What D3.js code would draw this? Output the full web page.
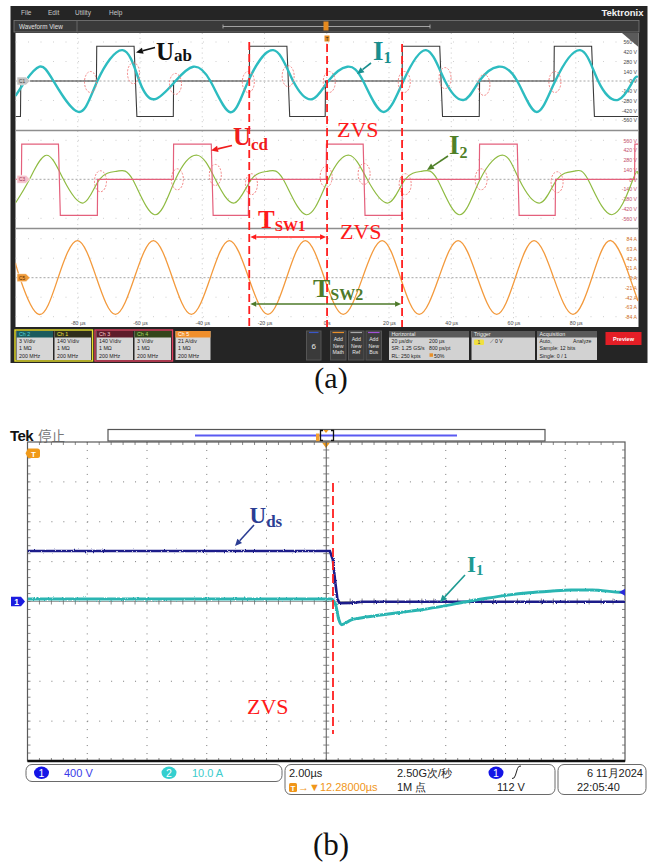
<!DOCTYPE html>
<html>
<head>
<meta charset="utf-8">
<script src="https://cdn.jsdelivr.net/npm/d3@7/dist/d3.min.js"></script>
<style>
  html, body { margin: 0; padding: 0; background: #fff; }
  svg { display: block; }
</style>
</head>
<body>
<svg id="fig" width="663" height="865"></svg>
<script>
// ================= (a) four-channel capture, 20 µs/div =================
const timeTicksA  = [-80, -60, -40, -20, 0, 20, 40, 60, 80];
const timeLabelsA = ["-80 µs", "-60 µs", "-40 µs", "-20 µs", "0 s", "20 µs", "40 µs", "60 µs", "80 µs"];
const voltTicks   = [560, 420, 280, 140, 0, -140, -280, -420, -560];
const voltLabels  = ["560 V", "420 V", "280 V", "140 V", "0 V", "-140 V", "-280 V", "-420 V", "-560 V"];
const ampTicks    = [84, 63, 42, 21, 0, -21, -42, -63, -84];
const ampLabels   = ["84 A", "63 A", "42 A", "21 A", "0 A", "-21 A", "-42 A", "-63 A", "-84 A"];

// Uab, Ch1 140 V/div : [time µs, volts]
const uab = [[-100,-510],[-98.4,-510],[-98.3,0],[-74.0,0],[-73.9,500],[-61.9,500],[-61.0,-510],[-49.3,-510],
  [-49.2,0],[-24.9,0],[-24.8,500],[-12.8,500],[-11.9,-510],[-0.5,-510],[-0.4,0],[24.2,0],[24.3,500],
  [36.3,500],[37.2,-510],[49.0,-510],[49.1,0],[73.0,0],[73.1,500],[85.1,500],[86.0,-510],[100,-510]];
// I1 probe, Ch2 3 V/div
const i1a = [[-100,-4.6],[-96.8,0],[-92.3,4.4],[-87.8,0],[-79.8,-9.5],[-73.7,0],[-65.6,9.5],[-60.2,0],
  [-55.3,-5.6],[-48.6,0],[-42.9,4.4],[-37.4,0],[-31.0,-9.6],[-25.2,0],[-17.2,9.5],[-10.8,0],[-4.7,-5.6],
  [0.5,0],[6.6,4.4],[11.7,0],[18.1,-9.5],[24.6,0],[31.9,9.5],[38.0,0],[44.1,-5.8],[49.0,0],[55.1,4.4],
  [61.2,0],[67.3,-9.5],[73.4,0],[81.4,9.5],[87.2,0],[93.6,-5.8],[98.4,0],[100,1.2]];
// Ucd, Ch3 140 V/div
const ucd = [[-100,0],[-98.1,0],[-98.0,504],[-86.2,504],[-85.6,-518],[-73.7,-518],[-73.6,0],[-49.3,0],
  [-49.2,504],[-37.1,504],[-36.5,-518],[-25.2,-518],[-25.1,0],[-0.2,0],[-0.1,504],[11.7,504],[12.3,-518],
  [24.2,-518],[24.3,0],[49.0,0],[49.1,504],[61.2,504],[61.8,-518],[73.4,-518],[73.5,0],[98.9,0],[99.0,504],[100,504]];
// I2 probe, Ch4 3 V/div
const i2 = [[-100,-7.3],[-95.5,0],[-90.1,7.4],[-84.6,0],[-78.2,-7.3],[-73.0,0],[-67.3,2.5],[-62.4,0],
  [-55.3,-10.9],[-48.6,0],[-41.6,7.4],[-35.8,0],[-29.7,-7.3],[-24.2,0],[-18.8,2.5],[-14.0,0],[-6.6,-10.9],
  [0.5,0],[7.2,7.4],[13.0,0],[19.7,-7.3],[25.2,0],[30.7,2.5],[35.5,0],[42.5,-10.9],[49.3,0],[56.7,7.4],
  [61.8,0],[68.5,-7.3],[74.0,0],[79.5,2.5],[83.9,0],[91.6,-10.9],[98.4,0],[100,1.6]];
// Ch5 current, 21 A/div
const ch5 = [[-100,32],[-98.6,0],[-92.5,-79],[-86.3,0],[-80.1,80],[-74.0,0],[-67.9,-79],[-61.8,0],
  [-55.7,80],[-49.6,0],[-43.5,-79],[-37.4,0],[-31.3,80],[-25.1,0],[-18.9,-79],[-12.9,0],[-6.9,80],
  [-0.8,0],[5.3,-79],[11.5,0],[17.8,80],[23.7,0],[29.7,-79],[36.0,0],[42.2,80],[48.4,0],[54.6,-79],
  [60.6,0],[66.6,80],[72.9,0],[79.1,-79],[85.2,0],[91.3,80],[97.4,0],[100,-50]];
// switching instants (µs)
const switchTimes = [-24.9, 0.1, 24.2];
// zero-voltage transitions circled on the traces: [time µs, divisions from centre]
const zvsMarks1 = [[-75.9,-0.1],[-62.1,0.8],[-48.6,-0.3],[-25.2,-0.1],[-12.4,0.5],[0.8,-0.1],[24.9,-0.1],[38.0,0.3],[50.5,-0.4],[73.3,-0.1]];
const zvsMarks2 = [[-72.7,-0.2],[-48.0,0],[-35.8,0.45],[-24.2,-0.5],[-0.2,0.25],[12.0,0.55],[25.2,-0.5],[49.6,0],[74.0,-0.3]];

// ================= (b) turn-on detail, 2 µs/div =================
// Uds, Ch1 400 V/div : [time µs, volts]
const uds = [[-10,506],[0.12,506],[0.22,420],[0.3,200],[0.37,30],[0.45,-18],[0.85,-14],[1.2,-2],[10,-2]];
// I1, Ch2 10 A/div : [time µs, amps]
const i1b = [[-10,0.6],[0.15,0.6],[0.3,-0.5],[0.42,-4.5],[0.52,-5.8],[0.84,-4.6],[1.1,-4.2],[1.82,-3.4],
  [2.53,-2.7],[3.24,-2.0],[3.95,-1.1],[4.65,-0.1],[5.36,0.8],[6.07,1.6],[6.78,2.2],[7.49,2.6],[8.19,2.9],
  [8.9,2.9],[9.9,2.3],[10,2.3]];

// ---------------------------------------------------------------
const svg = d3.select("#fig");
const UI = "'Liberation Sans', Arial, sans-serif";
const SERIF = "'Liberation Serif', 'Times New Roman', serif";

// slight acquisition fuzz for the sampled traces
const defs = svg.append("defs");
const fz = defs.append("filter").attr("id", "fuzz").attr("filterUnits", "userSpaceOnUse")
  .attr("x", 0).attr("y", 0).attr("width", 663).attr("height", 865);
fz.append("feTurbulence").attr("type", "fractalNoise").attr("baseFrequency", "0.9 0.7").attr("numOctaves", 1).attr("seed", 4).attr("result", "n");
fz.append("feDisplacementMap").attr("in", "SourceGraphic").attr("in2", "n").attr("scale", 2.6)
  .attr("xChannelSelector", "R").attr("yChannelSelector", "G");

function arrow(g, x1, y1, x2, y2, color, w, head) {
  const a = Math.atan2(y2 - y1, x2 - x1);
  const bx = x2 - head * Math.cos(a), by = y2 - head * Math.sin(a);
  g.append("line").attr("x1", x1).attr("y1", y1).attr("x2", bx).attr("y2", by)
    .attr("stroke", color).attr("stroke-width", w);
  const hw = head * 0.45;
  g.append("path").attr("d", `M${x2},${y2}L${bx - hw * Math.sin(a)},${by + hw * Math.cos(a)}L${bx + hw * Math.sin(a)},${by - hw * Math.cos(a)}Z`)
    .attr("fill", color);
}
function subLabel(g, x, y, main, sub, color, size, subSize, subDy) {
  const t = g.append("text").attr("x", x).attr("y", y).attr("fill", color)
    .attr("font-family", SERIF).attr("font-weight", "bold").attr("font-size", size);
  t.append("tspan").text(main);
  t.append("tspan").attr("font-size", subSize).attr("dy", subDy).text(sub);
}

// ===================== (a) =====================
const A = svg.append("g");
const PX0 = 15.5, PX1 = 638.5, PY0 = 33, PY1 = 327;
A.append("rect").attr("x", 10.5).attr("y", 6).attr("width", 637).attr("height", 357).attr("fill", "#252525");
// menu bar
["File", "Edit", "Utility", "Help"].forEach((m, i) => {
  A.append("text").attr("x", [21, 48, 75, 109][i]).attr("y", 14.5).text(m)
    .attr("font-family", UI).attr("font-size", 6.5).attr("fill", "#c8c8c8");
});
A.append("text").attr("x", 643.5).attr("y", 16).attr("text-anchor", "end").text("Tektronix")
  .attr("font-family", UI).attr("font-weight", "bold").attr("font-size", 9.5).attr("fill", "#f2f2f2");
A.append("rect").attr("x", 14).attr("y", 20.5).attr("width", 625).attr("height", 11.5)
  .attr("fill", "#3a3a3a").attr("stroke", "#7a7a7a").attr("stroke-width", 0.8);
A.append("text").attr("x", 19).attr("y", 28.5).text("Waveform View")
  .attr("font-family", UI).attr("font-size", 6.3).attr("fill", "#e0e0e0");
A.append("line").attr("x1", 77).attr("x2", 77).attr("y1", 21).attr("y2", 32).attr("stroke", "#666");
A.append("path").attr("d", "M223,24.5V28.5M223,26.5H430M430,24.5V28.5").attr("stroke", "#bdbdbd").attr("fill", "none").attr("stroke-width", 0.8);
A.append("rect").attr("x", 323.5).attr("y", 21.5).attr("width", 5).attr("height", 9).attr("fill", "#e58a1f");

// plot area
A.append("rect").attr("x", PX0).attr("y", PY0).attr("width", PX1 - PX0).attr("height", PY1 - PY0).attr("fill", "#fff");
const xA = d3.scaleLinear().domain([-100, 100]).range([PX0, 638]);
const DIV = 9.75;
const panel = (c, perDiv) => d3.scaleLinear().domain([-5 * perDiv, 5 * perDiv]).range([c + 5 * DIV, c - 5 * DIV]);
const C1 = 81, C2 = 179.3, C3 = 277.7;
const yUab = panel(C1, 140), yI1a = panel(C1, 3);
const yUcd = panel(C2, 140), yI2 = panel(C2, 3);
const yCh5 = panel(C3, 21);

// grid
const grid = A.append("g");
timeTicksA.forEach(t => {
  grid.append("line").attr("x1", xA(t)).attr("x2", xA(t)).attr("y1", PY0).attr("y2", PY1)
    .attr("stroke", "#c2c2c2").attr("stroke-width", 0.9).attr("stroke-dasharray", "1,3.9");
});
[C1, C2, C3].forEach(c => {
  [-4, -2, 2, 4].forEach(k => {
    grid.append("line").attr("x1", PX0).attr("x2", PX1).attr("y1", c + k * DIV).attr("y2", c + k * DIV)
      .attr("stroke", "#cacaca").attr("stroke-width", 0.9).attr("stroke-dasharray", "1,11.5");
  });
  grid.append("line").attr("x1", PX0).attr("x2", PX1).attr("y1", c).attr("y2", c)
    .attr("stroke", "#9c9c9c").attr("stroke-width", 0.9).attr("stroke-dasharray", "2,2");
});
[130.5, 228.5].forEach(y => A.append("line").attr("x1", PX0).attr("x2", PX1).attr("y1", y).attr("y2", y)
  .attr("stroke", "#8e8e8e").attr("stroke-width", 1.4));

// scale labels
function rightAxis(scale, ticks, labels, color) {
  const g = A.append("g").attr("transform", `translate(637,0)`)
    .call(d3.axisLeft(scale).tickValues(ticks).tickFormat((d, i) => labels[i]).tickSize(0).tickPadding(0));
  g.select(".domain").remove();
  g.selectAll("text").attr("font-family", UI).attr("font-size", 5.2).attr("fill", color).attr("dy", "0.35em");
}
rightAxis(yUab, voltTicks, voltLabels, "#4a4a4a");
rightAxis(yUcd, voltTicks, voltLabels, "#c4506c");
rightAxis(yCh5, ampTicks, ampLabels, "#cf6d22");
const tAxis = A.append("g").attr("transform", "translate(0,321)")
  .call(d3.axisBottom(xA).tickValues(timeTicksA).tickFormat((d, i) => timeLabelsA[i]).tickSize(0).tickPadding(0));
tAxis.select(".domain").remove();
tAxis.selectAll("text").attr("font-family", UI).attr("font-size", 5.2).attr("fill", "#4a4a4a");

// traces
A.append("clipPath").attr("id", "clipA").append("rect").attr("x", PX0).attr("y", PY0).attr("width", PX1 - PX0).attr("height", PY1 - PY0);
const tr = A.append("g").attr("clip-path", "url(#clipA)");
const lineOf = (ys, curve) => d3.line().x(d => xA(d[0])).y(d => ys(d[1])).curve(curve);
tr.append("path").datum(ch5).attr("d", lineOf(yCh5, d3.curveNatural)).attr("fill", "none").attr("stroke", "#f39a3d").attr("stroke-width", 1.3);
tr.append("path").datum(i2).attr("d", lineOf(yI2, d3.curveNatural)).attr("fill", "none").attr("stroke", "#8fbb42").attr("stroke-width", 1.2);
tr.append("path").datum(ucd).attr("d", lineOf(yUcd, d3.curveLinear)).attr("fill", "none").attr("stroke", "#e4607c").attr("stroke-width", 1.2);
tr.append("path").datum(uab).attr("d", lineOf(yUab, d3.curveLinear)).attr("fill", "none").attr("stroke", "#3a3a3a").attr("stroke-width", 1.1);
tr.append("path").datum(i1a).attr("d", lineOf(yI1a, d3.curveNatural)).attr("fill", "none").attr("stroke", "#2dbcc0").attr("stroke-width", 2.4);

// circled transitions
zvsMarks1.forEach(d => tr.append("ellipse").attr("cx", xA(d[0])).attr("cy", C1 - d[1] * DIV).attr("rx", 6).attr("ry", 10.5)
  .attr("fill", "none").attr("stroke", "#f07878").attr("stroke-width", 0.9).attr("stroke-dasharray", "2,1.5"));
zvsMarks2.forEach(d => tr.append("ellipse").attr("cx", xA(d[0])).attr("cy", C2 - d[1] * DIV).attr("rx", 6).attr("ry", 10.5)
  .attr("fill", "none").attr("stroke", "#f07878").attr("stroke-width", 0.9).attr("stroke-dasharray", "2,1.5"));

// channel markers at the left edge
[[C1, "C1", "#c4c4c4", "#444"], [C2, "C3", "#f6c0cb", "#a03050"], [C3, "C5", "#ee9a3a", "#5a2a00"]].forEach(m => {
  const y = m[0];
  A.append("path").attr("d", `M17,${y - 4}H26L30,${y}L26,${y + 4}H17Z`).attr("fill", m[2]).attr("stroke", "#fff").attr("stroke-width", 0.6);
  A.append("text").attr("x", 22).attr("y", y + 1.8).attr("text-anchor", "middle").text(m[1])
    .attr("font-family", UI).attr("font-size", 4.8).attr("fill", m[3]);
});
// trigger marker and corner icon
A.append("rect").attr("x", 324.5).attr("y", 35.5).attr("width", 5).attr("height", 6).attr("fill", "#e58a1f");
A.append("text").attr("x", 327).attr("y", 40.5).attr("text-anchor", "middle").text("T").attr("font-family", UI).attr("font-size", 4.5).attr("fill", "#222");
A.append("path").attr("d", "M622,33H638.5V47Z").attr("fill", "#5a5a5a");

// switching instants
switchTimes.forEach((t, i) => A.append("line").attr("x1", xA(t)).attr("x2", xA(t)).attr("y1", i === 0 ? 42 : 44).attr("y2", PY1)
  .attr("stroke", "#ff1f1f").attr("stroke-width", 1.8).attr("stroke-dasharray", "8,4"));

// annotations
const ann = A.append("g");
subLabel(ann, 156, 60, "U", "ab", "#111", 25, 17, 1);
arrow(ann, 155, 47.5, 136, 52.5, "#111", 1.6, 7);
subLabel(ann, 373, 60, "I", "1", "#1a8e8e", 27, 16, 3);
arrow(ann, 371, 63, 357, 74, "#1a8e8e", 1.6, 7);
subLabel(ann, 233, 145, "U", "cd", "#f01c1c", 25, 17, 5);
arrow(ann, 232, 145.5, 211, 150.5, "#f01c1c", 1.6, 7);
subLabel(ann, 449, 154, "I", "2", "#4f8028", 27, 16, 4);
arrow(ann, 448, 156, 427, 170, "#4f8028", 1.6, 7);
[[337, 137], [340, 239]].forEach(p => ann.append("text").attr("x", p[0]).attr("y", p[1]).text("ZVS")
  .attr("font-family", SERIF).attr("font-size", 22).attr("fill", "#ff1a1a"));
subLabel(ann, 258, 228, "T", "SW1", "#ff1a1a", 25, 15, 3);
subLabel(ann, 313, 297, "T", "SW2", "#4e7a2a", 26, 16, 3);
function dblArrow(x1, x2, y, color) {
  arrow(ann, (x1 + x2) / 2, y, x1, y, color, 1.3, 6);
  arrow(ann, (x1 + x2) / 2, y, x2, y, color, 1.3, 6);
}
dblArrow(xA(switchTimes[0]) + 1, xA(switchTimes[1]) - 1, 237, "#ff1a1a");
dblArrow(xA(switchTimes[0]) + 1, xA(switchTimes[2]) - 1, 304, "#4e7a2a");

// bottom control strip
const bar = A.append("g").attr("font-family", UI);
function chanBox(x, w, name, hdrFill, hdrText, lines) {
  bar.append("rect").attr("x", x).attr("y", 331).attr("width", w).attr("height", 29).attr("fill", "#d6d6d6");
  bar.append("rect").attr("x", x).attr("y", 331).attr("width", w).attr("height", 6.5).attr("fill", hdrFill);
  bar.append("text").attr("x", x + 2.5).attr("y", 336.3).text(name).attr("font-size", 5.3).attr("fill", hdrText);
  lines.forEach((l, i) => bar.append("text").attr("x", x + 2.5).attr("y", 343 + i * 7.3).text(l).attr("font-size", 5.3).attr("fill", "#222"));
}
chanBox(16.5, 36.5, "Ch 2", "#1b5b5e", "#4fd6da", ["3 V/div", "1 MΩ", "200 MHz"]);
chanBox(54.5, 36.5, "Ch 1", "#2e2e1c", "#f0e040", ["140 V/div", "1 MΩ", "200 MHz"]);
chanBox(96.5, 36.5, "Ch 3", "#5e1c2a", "#f8c8d0", ["140 V/div", "1 MΩ", "200 MHz"]);
chanBox(134.5, 36.5, "Ch 4", "#33451b", "#a8d860", ["3 V/div", "1 MΩ", "200 MHz"]);
chanBox(175.5, 35, "Ch 5", "#f08f2c", "#fff", ["21 A/div", "1 MΩ", "200 MHz"]);
bar.append("rect").attr("x", 15).attr("y", 330).attr("width", 77.5).attr("height", 31).attr("fill", "none").attr("stroke", "#e9e12a").attr("stroke-width", 1.4);
bar.append("rect").attr("x", 95).attr("y", 330).attr("width", 77.5).attr("height", 31).attr("fill", "none").attr("stroke", "#e0405e").attr("stroke-width", 1.4);
bar.append("rect").attr("x", 306.5).attr("y", 331).attr("width", 14.5).attr("height", 29).attr("fill", "#3a3a3a").attr("stroke", "#555");
bar.append("line").attr("x1", 309).attr("x2", 318.5).attr("y1", 332.5).attr("y2", 332.5).attr("stroke", "#3a56c8").attr("stroke-width", 1.2);
bar.append("text").attr("x", 313.8).attr("y", 349).attr("text-anchor", "middle").text("6").attr("font-size", 8).attr("fill", "#e8e8e8");
[[330.5, "Math", "#e8902a"], [348.5, "Ref", "#a8a8a8"], [366, "Bus", "#a050d8"]].forEach(b => {
  bar.append("rect").attr("x", b[0]).attr("y", 331).attr("width", 15.5).attr("height", 29).attr("fill", "#3c3c3c").attr("stroke", "#555");
  bar.append("line").attr("x1", b[0] + 2).attr("x2", b[0] + 13.5).attr("y1", 332.5).attr("y2", 332.5).attr("stroke", b[2]).attr("stroke-width", 1.2);
  ["Add", "New", b[1]].forEach((s, i) => bar.append("text").attr("x", b[0] + 7.75).attr("y", 341 + i * 6.5).attr("text-anchor", "middle")
    .text(s).attr("font-size", 5.2).attr("fill", "#e4e4e4"));
});
function infoBox(x, w, title, rows) {
  bar.append("rect").attr("x", x).attr("y", 331).attr("width", w).attr("height", 29).attr("fill", "#d2d2d2");
  bar.append("rect").attr("x", x).attr("y", 331).attr("width", w).attr("height", 6.5).attr("fill", "#5a5a5a");
  bar.append("text").attr("x", x + 2.5).attr("y", 336.3).text(title).attr("font-size", 5.3).attr("fill", "#f0f0f0");
  rows.forEach((r, i) => r.forEach(c => bar.append("text").attr("x", x + c[0]).attr("y", 343 + i * 7.3).text(c[1])
    .attr("font-size", 5.2).attr("fill", "#222")));
}
infoBox(389, 80, "Horizontal", [[[2.5, "20 µs/div"], [40, "200 µs"]], [[2.5, "SR: 1.25 GS/s"], [40, "800 ps/pt"]], [[2.5, "RL: 250 kpts"], [45, "50%"]]]);
bar.append("rect").attr("x", 429.5).attr("y", 353.3).attr("width", 3.5).attr("height", 3.5).attr("fill", "#e8902a");
infoBox(471.5, 63.5, "Trigger", [[[18, "⟋  0 V"]], [], []]);
bar.append("rect").attr("x", 474).attr("y", 339.5).attr("width", 10).attr("height", 5.5).attr("rx", 1.2).attr("fill", "#f0e040");
bar.append("text").attr("x", 479).attr("y", 344).attr("text-anchor", "middle").text("1").attr("font-size", 5).attr("fill", "#333");
infoBox(537, 60, "Acquisition", [[[2.5, "Auto,"], [36, "Analyze"]], [[2.5, "Sample: 12 bits"]], [[2.5, "Single: 0 / 1"]]]);
bar.append("rect").attr("x", 605.5).attr("y", 332).attr("width", 36).attr("height", 13).attr("fill", "#e41e26");
bar.append("text").attr("x", 623.5).attr("y", 340.5).attr("text-anchor", "middle").text("Preview").attr("font-size", 5.6)
  .attr("font-weight", "bold").attr("fill", "#fff");

svg.append("text").attr("x", 331).attr("y", 388).attr("text-anchor", "middle").text("(a)")
  .attr("font-family", SERIF).attr("font-size", 30).attr("fill", "#111");

// ===================== (b) =====================
const B = svg.append("g");
const BX0 = 27.5, BX1 = 625, BY0 = 442, BY1 = 761;
const xB = d3.scaleLinear().domain([-10, 10]).range([BX0, BX1]);
const yUds = d3.scaleLinear().domain([-1600, 1600]).range([BY1, BY0]);
const yI1b = d3.scaleLinear().domain([-40, 40]).range([BY1, BY0]);
const hDiv = (BX1 - BX0) / 10, vDiv = (BY1 - BY0) / 8;

B.append("text").attr("x", 10).attr("y", 441).text("Tek").attr("font-family", UI).attr("font-weight", "bold")
  .attr("font-size", 15).attr("fill", "#111").attr("letter-spacing", -0.6);
B.append("text").attr("x", 38).attr("y", 441).text("停止").attr("font-family", "'Noto Sans CJK SC', sans-serif")
  .attr("font-size", 13.5).attr("fill", "#777");
B.append("rect").attr("x", 108).attr("y", 429.5).attr("width", 437).attr("height", 11.5).attr("fill", "#fff").attr("stroke", "#555").attr("stroke-width", 1.2);
B.append("line").attr("x1", 195).attr("x2", 457).attr("y1", 435.5).attr("y2", 435.5).attr("stroke", "#5a5af2").attr("stroke-width", 1.8);
B.append("path").attr("d", "M323,430.5H320.5V440.5H323M331,430.5H333.5V440.5H331").attr("fill", "none").attr("stroke", "#111").attr("stroke-width", 1.3);
B.append("path").attr("d", "M323.5,430L328.5,430L326,433Z").attr("fill", "#f09a1a");
B.append("path").attr("d", "M316,433.5H319.5V441.5H316Z").attr("fill", "#f3a030");
B.append("path").attr("d", "M322,442.5L330,442.5L326,448Z").attr("fill", "#f09a1a");

// grid
const gB = B.append("g");
for (let i = 1; i < 10; i++) {
  if (i === 5) continue;
  gB.append("line").attr("x1", BX0 + i * hDiv).attr("x2", BX0 + i * hDiv).attr("y1", BY0).attr("y2", BY1)
    .attr("stroke", "#7a7a7a").attr("stroke-width", 1).attr("stroke-dasharray", `1,${vDiv / 5 - 1}`);
}
for (let j = 1; j < 8; j++) {
  if (j === 4) continue;
  gB.append("line").attr("x1", BX0).attr("x2", BX1).attr("y1", BY0 + j * vDiv).attr("y2", BY0 + j * vDiv)
    .attr("stroke", "#7a7a7a").attr("stroke-width", 1).attr("stroke-dasharray", `1,${hDiv / 5 - 1}`);
}
const xc = BX0 + 5 * hDiv, yc = BY0 + 4 * vDiv;
gB.append("line").attr("x1", xc).attr("x2", xc).attr("y1", BY0).attr("y2", BY1).attr("stroke", "#555").attr("stroke-width", 1);
gB.append("line").attr("x1", BX0).attr("x2", BX1).attr("y1", yc).attr("y2", yc).attr("stroke", "#888").attr("stroke-width", 0.8);
let ticks = "";
for (let k = 1; k < 40; k++) {
  const y = BY0 + k * vDiv / 5;
  ticks += `M${xc - 3},${y}H${xc + 3}M${BX0},${y}H${BX0 + 3}M${BX1 - 3},${y}H${BX1}`;
}
for (let k = 1; k < 50; k++) {
  const x = BX0 + k * hDiv / 5;
  ticks += `M${x},${BY0}V${BY0 + 3}M${x},${BY1 - 3}V${BY1}M${x},${yc - 3}V${yc + 3}`;
}
gB.append("path").attr("d", ticks).attr("stroke", "#6a6a6a").attr("stroke-width", 0.8).attr("fill", "none");
gB.append("rect").attr("x", BX0).attr("y", BY0).attr("width", BX1 - BX0).attr("height", BY1 - BY0)
  .attr("fill", "none").attr("stroke", "#5a5a5a").attr("stroke-width", 1.2);
gB.append("line").attr("x1", BX0).attr("x2", BX1).attr("y1", BY1).attr("y2", BY1).attr("stroke", "#111").attr("stroke-width", 2.6);

// traces
B.append("clipPath").attr("id", "clipB").append("rect").attr("x", BX0).attr("y", BY0).attr("width", BX1 - BX0).attr("height", BY1 - BY0);
const trB = B.append("g").attr("clip-path", "url(#clipB)");
trB.append("path").datum(uds).attr("d", d3.line().x(d => xB(d[0])).y(d => yUds(d[1])).curve(d3.curveLinear))
  .attr("fill", "none").attr("stroke", "#1f1f8a").attr("stroke-width", 2.6).attr("filter", "url(#fuzz)");
trB.append("path").datum(i1b).attr("d", d3.line().x(d => xB(d[0])).y(d => yI1b(d[1])).curve(d3.curveMonotoneX))
  .attr("fill", "none").attr("stroke", "#2cb5b2").attr("stroke-width", 3).attr("filter", "url(#fuzz)");

// markers
B.append("path").attr("d", `M28,448.5H37.5Q40,448.5 40,451V455.5Q40,458 37.5,458H28L25.5,453.2Z`).attr("fill", "#f09a1a");
B.append("text").attr("x", 33.5).attr("y", 456.5).attr("text-anchor", "middle").text("T").attr("font-family", UI)
  .attr("font-weight", "bold").attr("font-size", 8).attr("fill", "#fff");
B.append("path").attr("d", `M11,${yc - 4.8}H21L25,${yc}L21,${yc + 4.8}H11Z`).attr("fill", "#1c1ce0");
B.append("text").attr("x", 16.5).attr("y", yc + 3).attr("text-anchor", "middle").text("1").attr("font-family", UI)
  .attr("font-weight", "bold").attr("font-size", 8.5).attr("fill", "#fff");
B.append("path").attr("d", `M625,${yI1b(2.3) - 3.5}L619,${yI1b(2.3)}L625,${yI1b(2.3) + 3.5}Z`).attr("fill", "#2a2ad8");

// switching instant and annotations
B.append("line").attr("x1", 333).attr("x2", 333).attr("y1", 483).attr("y2", 734).attr("stroke", "#ff1f1f")
  .attr("stroke-width", 1.8).attr("stroke-dasharray", "9,4");
subLabel(B, 249.5, 523, "U", "ds", "#2b3d93", 23, 17, 4);
arrow(B, 254, 525, 235, 546, "#2b3d93", 1.6, 7);
subLabel(B, 467, 572, "I", "1", "#1e9a92", 23, 15, 3);
arrow(B, 465, 575, 440, 602, "#1e9a92", 1.6, 7);
B.append("text").attr("x", 247).attr("y", 714).text("ZVS").attr("font-family", SERIF).attr("font-size", 22).attr("fill", "#ff1a1a");

// status bar
const sb = B.append("g").attr("font-family", UI).attr("font-size", 11);
sb.append("rect").attr("x", 26).attr("y", 764.5).attr("width", 256).attr("height", 17).attr("rx", 6).attr("fill", "#fff").attr("stroke", "#6a6a6a");
sb.append("rect").attr("x", 285).attr("y", 764.5).attr("width", 270).attr("height", 30).attr("rx", 6).attr("fill", "#fff").attr("stroke", "#6a6a6a");
sb.append("rect").attr("x", 558).attr("y", 764.5).attr("width", 88).attr("height", 30).attr("rx", 6).attr("fill", "#fff").attr("stroke", "#6a6a6a");
function badge(cx, cy, s, fill) {
  sb.append("ellipse").attr("cx", cx).attr("cy", cy).attr("rx", 7.5).attr("ry", 6.2).attr("fill", fill);
  sb.append("text").attr("x", cx).attr("y", cy + 4).attr("text-anchor", "middle").text(s).attr("fill", "#fff").attr("font-size", 10.5);
}
badge(41.5, 772.8, "1", "#1414e6");
sb.append("text").attr("x", 64).attr("y", 777).text("400 V").attr("fill", "#3a3ae8");
badge(169, 772.8, "2", "#34cfcf");
sb.append("text").attr("x", 192).attr("y", 777).text("10.0 A").attr("fill", "#3ccccc");
sb.append("text").attr("x", 289).attr("y", 777).text("2.00µs").attr("fill", "#222");
sb.append("text").attr("x", 397).attr("y", 777).text("2.50G次/秒").attr("fill", "#222");
badge(496, 772.8, "1", "#1414e6");
sb.append("path").attr("d", "M512,778.5Q514.5,779 515.5,775L517.5,768.5Q518.5,765.5 521,766").attr("fill", "none").attr("stroke", "#222").attr("stroke-width", 1);
sb.append("rect").attr("x", 289).attr("y", 783).attr("width", 8).attr("height", 9).attr("rx", 1.5).attr("fill", "#f0961a");
sb.append("text").attr("x", 293).attr("y", 790.8).attr("text-anchor", "middle").text("T").attr("fill", "#fff").attr("font-size", 8).attr("font-weight", "bold");
sb.append("text").attr("x", 298).attr("y", 791).text("→▼12.28000µs").attr("fill", "#f0961a");
sb.append("text").attr("x", 397).attr("y", 791).text("1M 点").attr("fill", "#222");
sb.append("text").attr("x", 497).attr("y", 791).text("112 V").attr("fill", "#222");
sb.append("text").attr("x", 643).attr("y", 777).attr("text-anchor", "end").text("6 11月2024").attr("fill", "#222");
sb.append("text").attr("x", 577).attr("y", 791).text("22:05:40").attr("fill", "#222");

svg.append("text").attr("x", 331).attr("y", 855).attr("text-anchor", "middle").text("(b)")
  .attr("font-family", SERIF).attr("font-size", 31).attr("fill", "#111");
</script>
</body>
</html>
